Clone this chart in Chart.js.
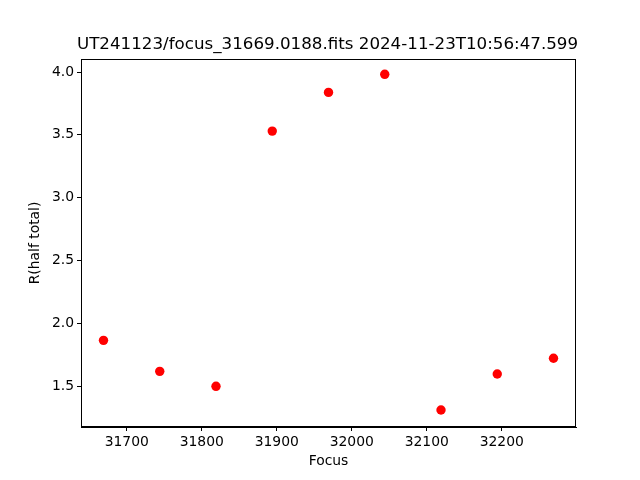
<!DOCTYPE html>
<html>
<head>
<meta charset="utf-8">
<script src="https://cdn.jsdelivr.net/npm/chart.js@4/dist/chart.umd.min.js"></script>
<style>
html, body { margin: 0; padding: 0; background: #fff; }
canvas { display: block; }
</style>
</head>
<body>
<canvas id="focusChart" width="640" height="480"></canvas>
<script>
const titleText = "UT241123/focus_31669.0188.fits 2024-11-23T10:56:47.599";
const xLabel = "Focus";
const yLabel = "R(half total)";

const focus = [31669, 31744, 31819, 31894, 31969, 32044, 32119, 32194, 32269];
const rHalf = [1.864, 1.617, 1.498, 3.530, 3.838, 3.982, 1.309, 1.596, 1.721];

const xTicks = [31700, 31800, 31900, 32000, 32100, 32200];
const yTicks = [1.5, 2.0, 2.5, 3.0, 3.5, 4.0];

const font = "DejaVu Sans";

// frame round the plot area plus the title over it
const framePlugin = {
    id: "frame",
    afterDraw(chart) {
        const { ctx, chartArea } = chart;
        ctx.save();
        ctx.strokeStyle = "#000";
        ctx.lineWidth = 1;
        ctx.strokeRect(chartArea.left + 0.5, chartArea.top + 0.5,
            chartArea.right - chartArea.left - 1, chartArea.bottom - chartArea.top - 1);
        ctx.fillStyle = "#000";
        ctx.font = "16.7px '" + font + "'";
        ctx.textAlign = "center";
        ctx.textBaseline = "middle";
        ctx.fillText(titleText, (chartArea.left + chartArea.right) / 2 - 1, 44.5);
        ctx.restore();
    }
};

new Chart(document.getElementById("focusChart"), {
    type: "scatter",
    data: {
        datasets: [
            {
                data: focus.map((f, i) => ({ x: f, y: rHalf[i] })),
                backgroundColor: "#ff0000",
                borderWidth: 0,
                pointRadius: 4.7
            }
        ]
    },
    options: {
        responsive: false,
        animation: false,
        layout: { padding: { left: 0, right: 64, top: 59, bottom: 0 } },
        plugins: {
            legend: { display: false },
            tooltip: { enabled: false }
        },
        scales: {
            x: {
                type: "linear",
                min: 31639,
                max: 32299,
                afterFit(scale) { scale.height = 53; },
                afterBuildTicks(scale) { scale.ticks = xTicks.map(v => ({ value: v })); },
                grid: { drawOnChartArea: false, tickLength: 4, tickColor: "#000", tickWidth: 1 },
                border: { color: "#000" },
                ticks: { color: "#000", padding: 3, maxRotation: 0, font: { family: font, size: 13.9 }, callback: v => String(v) },
                title: { display: true, text: xLabel, color: "#000", padding: 10, font: { family: font, size: 13.9 } }
            },
            y: {
                type: "linear",
                min: 1.174,
                max: 4.104,
                afterFit(scale) { scale.width = 81; },
                afterBuildTicks(scale) { scale.ticks = yTicks.map(v => ({ value: v })); },
                grid: { drawOnChartArea: false, tickLength: 4, tickColor: "#000", tickWidth: 1 },
                border: { color: "#000" },
                ticks: { color: "#000", padding: 3, font: { family: font, size: 13.9 }, callback: v => v.toFixed(1) },
                title: { display: true, text: yLabel, color: "#000", padding: 27, font: { family: font, size: 13.9 } }
            }
        }
    },
    plugins: [framePlugin]
});
</script>
</body>
</html>
